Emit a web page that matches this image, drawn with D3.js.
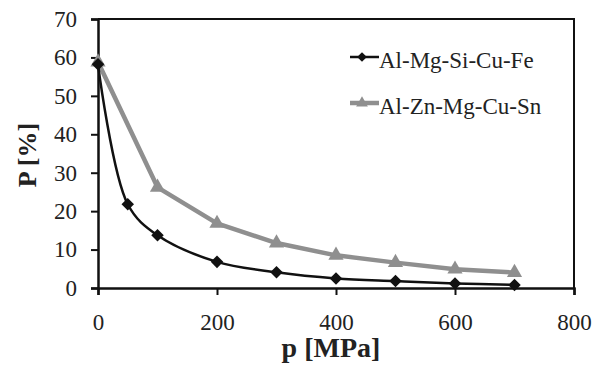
<!DOCTYPE html>
<html><head><meta charset="utf-8">
<script src="https://cdn.jsdelivr.net/npm/d3@7"></script>
</head><body style="margin:0">
<svg id="chart" width="602" height="369" style="font-family:'Times New Roman'"></svg>
<script>
// series data
var xAlMgSi = [0, 50, 100, 200, 300, 400, 500, 600, 700];
var yAlMgSi = [58.2, 21.8, 13.7, 6.8, 4.1, 2.5, 1.8, 1.2, 0.8];
var xAlZn = [0, 100, 200, 300, 400, 500, 600, 700];
var yAlZn = [58.8, 26.2, 16.8, 11.7, 8.5, 6.6, 4.9, 4.0];
var seriesNames = ["Al-Mg-Si-Cu-Fe", "Al-Zn-Mg-Cu-Sn"];
var xTicks = [0, 200, 400, 600, 800];
var yTicks = [0, 10, 20, 30, 40, 50, 60, 70];

var width = 602, height = 369;
var margin = {top: 19, right: 28, bottom: 81, left: 98};
var fontName = "Times New Roman";

var svg = d3.select("#chart");

var x = d3.scaleLinear().domain([0, 800]).range([margin.left, width - margin.right]);
var y = d3.scaleLinear().domain([0, 70]).range([height - margin.bottom, margin.top]);

// frame (top and right)
svg.append("path")
    .attr("d", "M" + x(0) + "," + y(70) + "H" + x(800) + "V" + y(0))
    .attr("fill", "none")
    .attr("stroke", "#111")
    .attr("stroke-width", 2);

var xAxis = svg.append("g")
    .attr("transform", "translate(0," + y(0) + ")")
    .call(d3.axisBottom(x).tickValues(xTicks).tickSize(7).tickPadding(19));
var yAxis = svg.append("g")
    .attr("transform", "translate(" + x(0) + ",0)")
    .call(d3.axisLeft(y).tickValues(yTicks).tickSize(7).tickPadding(14));

[xAxis, yAxis].forEach(function(g) {
  g.attr("font-family", fontName).attr("font-size", 23);
  g.select(".domain").attr("stroke", "#111").attr("stroke-width", 2.5);
  g.selectAll(".tick line").attr("stroke", "#111").attr("stroke-width", 2);
  g.selectAll(".tick text")
    .attr("fill", "#222")
    .style("font-family", fontName)
    .style("font-size", "23px");
});

// axis titles
svg.append("text")
    .attr("x", 331).attr("y", 357)
    .attr("text-anchor", "middle")
    .style("font-family", fontName)
    .style("font-size", "28px").style("font-weight", "bold")
    .attr("fill", "#222")
    .text("p [MPa]");
svg.append("text")
    .attr("transform", "translate(36,155) rotate(-90)")
    .attr("text-anchor", "middle")
    .style("font-family", fontName)
    .style("font-size", "26px").style("font-weight", "bold")
    .attr("fill", "#222")
    .text("P [%]");

var dataA = xAlMgSi.map(function(d, i) { return {x: d, y: yAlMgSi[i]}; });
var dataB = xAlZn.map(function(d, i) { return {x: d, y: yAlZn[i]}; });

var lineSmooth = d3.line().x(function(d) { return x(d.x); }).y(function(d) { return y(d.y); })
    .curve(d3.curveCatmullRom.alpha(0.5));
var lineStraight = d3.line().x(function(d) { return x(d.x); }).y(function(d) { return y(d.y); });

var grey = "#8f8f8f", black = "#111";

svg.append("path").datum(dataB)
    .attr("d", lineStraight)
    .attr("fill", "none").attr("stroke", grey).attr("stroke-width", 4.5)
    .attr("stroke-linejoin", "round");
svg.selectAll(".tri").data(dataB).enter().append("path")
    .attr("class", "tri")
    .attr("d", d3.symbol().type(d3.symbolTriangle).size(100))
    .attr("transform", function(d) { return "translate(" + x(d.x) + "," + y(d.y) + ")"; })
    .attr("fill", grey);

svg.append("path").datum(dataA)
    .attr("d", lineSmooth)
    .attr("fill", "none").attr("stroke", black).attr("stroke-width", 2.5);
svg.selectAll(".dia").data(dataA).enter().append("path")
    .attr("class", "dia")
    .attr("d", d3.symbol().type(d3.symbolDiamond2).size(100))
    .attr("transform", function(d) { return "translate(" + x(d.x) + "," + y(d.y) + ")"; })
    .attr("fill", black);

// legend
var legend = svg.append("g");
var legY = [57, 103];
var legColor = [black, grey];
var legWidth = [2.5, 4.5];
var legSym = [d3.symbolDiamond2, d3.symbolTriangle];
seriesNames.forEach(function(name, i) {
  legend.append("line")
      .attr("x1", 350).attr("x2", 379)
      .attr("y1", legY[i]).attr("y2", legY[i])
      .attr("stroke", legColor[i]).attr("stroke-width", legWidth[i]);
  legend.append("path")
      .attr("d", d3.symbol().type(legSym[i]).size(60))
      .attr("transform", "translate(362," + legY[i] + ")")
      .attr("fill", legColor[i]);
  legend.append("text")
      .attr("x", 379).attr("y", legY[i] + 11)
      .style("font-family", fontName)
      .style("font-size", "23px")
      .attr("fill", "#222")
      .text(name);
});
</script>
</body></html>
